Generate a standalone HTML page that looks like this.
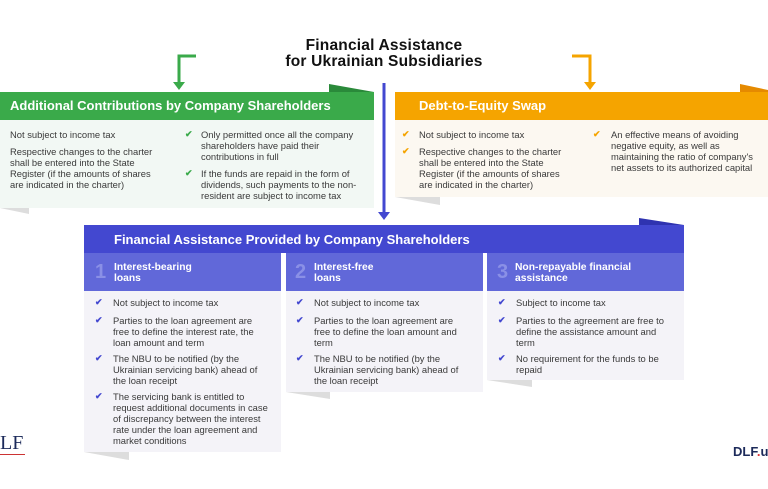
<!DOCTYPE html>
<html><head><meta charset="utf-8"><style>
*{margin:0;padding:0;box-sizing:border-box}
body{width:768px;height:489px;background:#fff;position:relative;overflow:hidden;font-family:"Liberation Sans",sans-serif;color:#333}
.a{position:absolute}
.t{font-size:9.4px;line-height:11px;color:#3a3a3a;white-space:nowrap}
.h{font-weight:bold;color:#fff;white-space:nowrap}
.ck{position:absolute;font-size:9px;font-weight:bold}
</style></head><body>
<div class="a h" style="left:0;width:768px;top:38px;text-align:center;color:#111;font-size:15.5px;line-height:16px;letter-spacing:0.2px">Financial Assistance<br>for Ukrainian Subsidiaries</div>

<svg class="a" style="left:0;top:0" width="768" height="489">
<path d="M196 56 H179 V84" stroke="#3aaa4a" stroke-width="3" fill="none"/>
<polygon points="173,82 185,82 179,90" fill="#3aaa4a"/>
<path d="M572 56 H590 V84" stroke="#f5a400" stroke-width="3" fill="none"/>
<polygon points="584,82 596,82 590,90" fill="#f5a400"/>
<line x1="384" y1="83" x2="384" y2="214" stroke="#4348d0" stroke-width="3"/>
<polygon points="378,212 390,212 384,220" fill="#4348d0"/>
<polygon points="329,84 374,92 329,92" fill="#2a8a3a"/>
<polygon points="740,84 768,90 768,92 740,92" fill="#e58a00"/>
<polygon points="639,218 684,225 639,225" fill="#2f33b0"/>
<polygon points="0,208 29,208 29,214" fill="#ddd"/>
<polygon points="395,197 440,197 440,205" fill="#ddd"/>
<polygon points="84,452 129,452 129,460" fill="#ddd"/>
<polygon points="286,392 330,392 330,399" fill="#ddd"/>
<polygon points="487,380 532,380 532,387" fill="#ddd"/>
</svg>

<div class="a" style="left:0;top:92px;width:374px;height:28px;background:#3aaa4a"></div>
<div class="a h" style="left:10px;top:98px;font-size:13px">Additional Contributions by Company Shareholders</div>
<div class="a" style="left:0;top:120px;width:374px;height:88px;background:#f2f8f4"></div>
<div class="a t" style="left:10px;top:129px">Not subject to income tax</div>
<div class="a t" style="left:10px;top:146px">Respective changes to the charter<br>shall be entered into the State<br>Register (if the amounts of shares<br>are indicated in the charter)</div>
<span class="ck" style="left:185px;top:129px;color:#3aaa4a">✔</span>
<div class="a t" style="left:201px;top:129px">Only permitted once all the company<br>shareholders have paid their<br>contributions in full</div>
<span class="ck" style="left:185px;top:168px;color:#3aaa4a">✔</span>
<div class="a t" style="left:201px;top:168px">If the funds are repaid in the form of<br>dividends, such payments to the non-<br>resident are subject to income tax</div>

<div class="a" style="left:395px;top:92px;width:373px;height:28px;background:#f5a400"></div>
<div class="a h" style="left:419px;top:98px;font-size:13px">Debt-to-Equity Swap</div>
<div class="a" style="left:395px;top:120px;width:373px;height:77px;background:#fcf8f1"></div>
<span class="ck" style="left:402px;top:129px;color:#f5a400">✔</span>
<div class="a t" style="left:419px;top:129px">Not subject to income tax</div>
<span class="ck" style="left:402px;top:146px;color:#f5a400">✔</span>
<div class="a t" style="left:419px;top:146px">Respective changes to the charter<br>shall be entered into the State<br>Register (if the amounts of shares<br>are indicated in the charter)</div>
<span class="ck" style="left:593px;top:129px;color:#f5a400">✔</span>
<div class="a t" style="left:611px;top:129px">An effective means of avoiding<br>negative equity, as well as<br>maintaining the ratio of company's<br>net assets to its authorized capital</div>

<div class="a" style="left:84px;top:225px;width:600px;height:28px;background:#4348d0"></div>
<div class="a h" style="left:114px;top:232px;font-size:13px">Financial Assistance Provided by Company Shareholders</div>

<div class="a" style="left:84px;top:253px;width:197px;height:38px;background:#6168d9"></div>
<div class="a" style="left:286px;top:253px;width:197px;height:38px;background:#6168d9"></div>
<div class="a" style="left:487px;top:253px;width:197px;height:38px;background:#6168d9"></div>
<div class="a" style="left:84px;top:291px;width:197px;height:161px;background:#f4f3f8"></div>
<div class="a" style="left:286px;top:291px;width:197px;height:101px;background:#f4f3f8"></div>
<div class="a" style="left:487px;top:291px;width:197px;height:89px;background:#f4f3f8"></div>

<div class="a h" style="left:95px;top:261px;font-size:20px;color:#8a90e6">1</div>
<div class="a h" style="left:114px;top:262px;font-size:10.3px;line-height:11px">Interest-bearing<br>loans</div>
<div class="a h" style="left:295px;top:261px;font-size:20px;color:#8a90e6">2</div>
<div class="a h" style="left:314px;top:262px;font-size:10.3px;line-height:11px">Interest-free<br>loans</div>
<div class="a h" style="left:497px;top:261px;font-size:20px;color:#8a90e6">3</div>
<div class="a h" style="left:515px;top:262px;font-size:10.3px;line-height:11px">Non-repayable financial<br>assistance</div>

<span class="ck" style="left:95px;top:297px;color:#4348d0">✔</span>
<div class="a t" style="left:113px;top:297px">Not subject to income tax</div>
<span class="ck" style="left:95px;top:315px;color:#4348d0">✔</span>
<div class="a t" style="left:113px;top:315px">Parties to the loan agreement are<br>free to define the interest rate, the<br>loan amount and term</div>
<span class="ck" style="left:95px;top:353px;color:#4348d0">✔</span>
<div class="a t" style="left:113px;top:353px">The NBU to be notified (by the<br>Ukrainian servicing bank) ahead of<br>the loan receipt</div>
<span class="ck" style="left:95px;top:391px;color:#4348d0">✔</span>
<div class="a t" style="left:113px;top:391px">The servicing bank is entitled to<br>request additional documents in case<br>of discrepancy between the interest<br>rate under the loan agreement and<br>market conditions</div>

<span class="ck" style="left:296px;top:297px;color:#4348d0">✔</span>
<div class="a t" style="left:314px;top:297px">Not subject to income tax</div>
<span class="ck" style="left:296px;top:315px;color:#4348d0">✔</span>
<div class="a t" style="left:314px;top:315px">Parties to the loan agreement are<br>free to define the loan amount and<br>term</div>
<span class="ck" style="left:296px;top:353px;color:#4348d0">✔</span>
<div class="a t" style="left:314px;top:353px">The NBU to be notified (by the<br>Ukrainian servicing bank) ahead of<br>the loan receipt</div>

<span class="ck" style="left:498px;top:297px;color:#4348d0">✔</span>
<div class="a t" style="left:516px;top:297px">Subject to income tax</div>
<span class="ck" style="left:498px;top:315px;color:#4348d0">✔</span>
<div class="a t" style="left:516px;top:315px">Parties to the agreement are free to<br>define the assistance amount and<br>term</div>
<span class="ck" style="left:498px;top:353px;color:#4348d0">✔</span>
<div class="a t" style="left:516px;top:353px">No requirement for the funds to be<br>repaid</div>

<div class="a" style="left:0;top:433px;font-family:'Liberation Serif',serif;font-size:20px;color:#1c2a5a;line-height:20px">LF</div>
<div class="a" style="left:0;top:454px;width:25px;height:1px;background:#c33"></div>
<div class="a" style="left:733px;top:444px;font-weight:bold;font-size:13px;color:#1c2a5a">DLF<span style="color:#d33">.</span>u</div>
</body></html>
